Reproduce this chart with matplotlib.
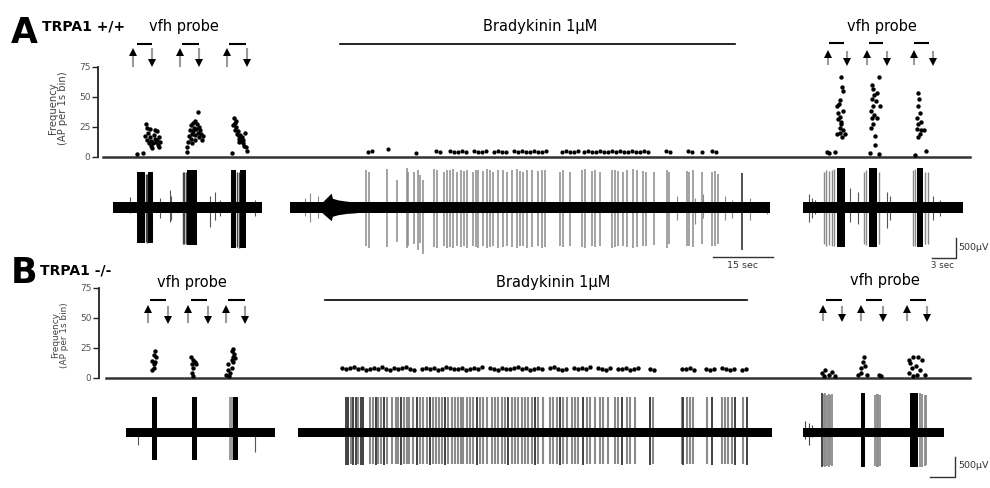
"""Recording figure: AP frequency and extracellular traces, TRPA1 +/+ vs -/-,
vfh probe before and after bradykinin 1 uM."""

import numpy as np
import matplotlib
matplotlib.use("Agg")
import matplotlib.pyplot as plt

plt.rcParams["font.family"] = ["DejaVu Sans"]

W, H = 990, 488

# ---------------------------------------------------------------- data
freq_ticks = [0, 25, 50, 75]

# frequency (AP per 1 s bin); time in s within each recording segment
a_pre_t = [3.0, 3.8, 4.1, 4.2, 4.0, 4.3, 4.4, 4.5, 4.6, 4.7, 4.8, 4.9, 5.0, 5.1,
           5.2, 5.3, 5.4, 5.5, 5.5, 5.6, 5.7, 5.8, 5.9, 4.6,
           9.2, 9.3, 9.4, 9.5, 9.6, 9.7, 9.8, 9.9, 10.0, 10.0, 10.1, 10.2, 10.3,
           10.4, 10.5, 10.6, 10.6, 10.7, 10.8, 10.9, 11.0, 11.1, 11.2, 9.9, 10.3,
           14.9, 15.0, 15.1, 15.2, 15.3, 15.4, 15.5, 15.6, 15.7, 15.8, 15.9, 16.0,
           16.1, 16.2, 16.3, 16.4, 16.5, 16.6, 16.7, 15.35, 15.8]
a_pre_f = [2, 3, 27, 24, 17, 14, 20, 11, 16, 9, 13, 7, 11, 18,
           15, 22, 12, 21, 14, 10, 16, 8, 12, 23,
           4, 8, 12, 17, 22, 15, 26, 19, 28, 21, 24, 18, 30,
           23, 27, 37, 20, 25, 16, 22, 19, 14, 17, 11, 14,
           3, 26, 32, 28, 22, 25, 19, 21, 17, 15, 18, 13,
           16, 11, 14, 9, 20, 8, 5, 30, 12]

a_mid_t = [19.5, 20.5, 24.5, 31.5, 36.5, 37.5,
           40, 41, 42, 43, 44, 46, 47, 48, 49, 51, 52, 53, 54, 56, 57, 58, 59,
           60, 61, 62, 63, 64,
           68, 69, 70, 71, 72,
           73.5, 74.5, 75.5, 76.5, 77.5, 78.5, 79.5, 80.5, 81.5, 82.5, 83.5,
           84.5, 85.5, 86.5, 87.5, 88.5, 89.5,
           94, 95, 99.5, 100.5, 103, 105.5, 106.5]
a_mid_f = [4, 5, 6, 3, 5, 4,
           5, 4, 4, 5, 4, 5, 4, 4, 5, 4, 5, 4, 4, 5, 4, 5, 4,
           4, 5, 4, 4, 5,
           4, 5, 4, 4, 5,
           4, 5, 4, 4, 5, 4, 4, 5, 4, 5, 4,
           4, 5, 4, 4, 5, 4,
           5, 4, 5, 4, 4, 5, 4]

a_post_t = [4.7, 4.9, 4.95, 4.6, 4.2, 4.4, 4.6, 5.0, 4.4, 4.8, 4.6, 4.95, 4.3,
            5.2, 4.85, 4.6, 4.0, 3.0, 3.3, 4.5, 4.75,
            9.5, 8.6, 8.75, 8.9, 8.6, 9.1, 8.75, 8.5, 9.6, 8.9, 8.6, 9.25, 8.75,
            8.5, 9.0, 9.0, 8.4, 9.5, 9.2,
            14.4, 14.5, 14.4, 14.6, 14.3, 14.75, 14.4, 14.3, 14.75, 14.6, 15.1,
            14.4, 14.0, 15.4]
a_post_f = [66, 58, 55, 47, 42, 36, 33, 38, 31, 27, 24, 22, 19,
            19, 16, 20, 4, 4, 3, 44, 29,
            66, 60, 56, 51, 48, 46, 42, 38, 42, 35, 32, 32, 27,
            24, 17, 10, 3, 2, 53,
            53, 48, 42, 36, 32, 29, 27, 23, 22, 19, 22,
            16, 1, 5]

b_pre_t = [3.6, 3.5, 3.7, 3.3, 3.6, 3.5, 3.55, 3.3,
           8.1, 8.35, 8.6, 8.25, 8.8, 8.4, 8.2, 8.4,
           13.4, 13.3, 13.5, 13.4, 13.6, 13.2, 13.4, 12.8, 13.2, 12.7, 13.0,
           12.5, 12.9]
b_pre_f = [22, 19, 17, 14, 13, 11, 8, 6,
           17, 15, 13, 11, 11, 8, 4, 1,
           24, 22, 20, 17, 16, 15, 13, 11, 8, 6, 4,
           2, 1]

b_mid_t = [11, 12, 13, 14, 15, 16, 17, 18, 19, 20, 21, 22, 23, 24, 25, 26, 27,
           28, 29, 31, 32, 33, 34, 35, 36, 37, 38, 39, 40, 41, 42, 43, 44, 45,
           46, 48, 49, 50, 51, 52, 53, 54, 55, 56, 57, 58, 59, 60, 61, 63, 64,
           65, 66, 67, 69, 70, 71, 72, 73, 75, 76, 77, 78, 80, 81, 82, 83, 84,
           85, 88, 89, 96, 97, 98, 99, 102, 103, 104, 106, 107, 108, 109, 111,
           112]
b_mid_f = [8, 7, 8, 9, 7, 8, 6, 7, 8, 7,
           9, 7, 6, 8, 7, 8, 9, 7, 6, 7,
           8, 7, 8, 6, 7, 9, 8, 7, 7, 8,
           6, 7, 8, 7, 9, 8, 7, 6, 8, 7,
           7, 8, 9, 7, 8, 6, 7, 8, 7, 8,
           9, 7, 6, 7, 8, 7, 8, 7, 9, 8,
           7, 6, 8, 7, 7, 8, 6, 7, 8, 7,
           6, 7, 7, 8, 6, 7, 6, 7, 8, 7,
           6, 7, 6, 7]

b_post_t = [2.4, 2.8, 3.2, 3.6, 4.0, 2.6,
            7.6, 7.5, 7.7, 7.3, 7.2, 6.9, 8.0, 9.5, 9.8,
            13.2, 13.8, 14.4, 14.9, 13.4, 14.1, 13.6, 14.6, 13.2, 14.2, 15.3, 13.8]
b_post_f = [4, 6, 2, 5, 1, 1,
            17, 13, 10, 8, 4, 2, 2, 2, 1,
            15, 17, 17, 15, 12, 10, 8, 6, 4, 2, 2, 1]

# vfh probe: up arrow (on), down arrow (off), bar
a_pre_on, a_pre_off = [2.5, 8.4, 14.2], [4.9, 10.8, 16.7]
a_pre_bar = [(3.0, 4.9), (8.6, 10.7), (14.5, 16.6)]
a_post_on, a_post_off = [3.1, 8.0, 13.9], [5.5, 10.5, 16.25]
a_post_bar = [(3.25, 5.1), (8.25, 10.0), (13.9, 15.75)]
b_pre_on, b_pre_off = [2.75, 7.75, 12.5], [5.25, 10.25, 14.9]
b_pre_bar = [(3.0, 5.0), (8.1, 10.1), (12.75, 14.9)]
b_post_on, b_post_off = [2.5, 7.25, 13.0], [4.9, 10.0, 15.5]
b_post_bar = [(2.9, 4.9), (7.9, 9.9), (13.4, 15.4)]

# bradykinin application (s, middle segment)
a_drug = (12.5, 111.25)
b_drug = (6.75, 112.25)

# traces (uV): bursts = dense firing blocks
a_pre_burst = dict(t0=[3.05, 4.4, 9.3, 14.7, 15.9], t1=[4.0, 5.0, 10.5, 15.4, 16.6],
                   up=[895, 895, 935, 940, 940], down=[895, 895, 935, 1020, 1020])
a_pre_grey = dict(t=[4.15, 4.3, 8.7, 8.9, 9.1, 15.55, 15.75],
                  up=[850, 850, 900, 880, 900, 900, 880],
                  down=[850, 880, 900, 900, 920, 980, 1000])
a_pre_small = dict(t=[2.1, 5.9, 7.1, 7.25, 12.1, 12.75, 13.4, 17.75],
                   up=[270, 250, 440, 300, 300, 400, 200, 200],
                   down=[140, 250, 350, 300, 480, 300, 200, 200])

a_mid_spk = dict(
    t=[19.0, 19.8, 24.2, 26.8, 29.2, 29.6, 31.0, 31.9, 32.5, 33.2,
       36.1, 36.7, 38.5, 39.3, 40.0, 40.8, 41.7, 42.7, 43.5, 44.2,
       45.7, 46.4, 47.1, 48.2, 49.2, 50.0, 50.8, 52.1, 53.3, 54.2,
       55.4, 56.7, 57.5, 58.3, 59.3, 60.4, 62.1, 62.9, 63.8, 67.5,
       68.3, 70.0, 72.9, 73.8, 75.4, 76.3, 77.5, 80.4, 81.3, 82.1,
       83.3, 84.3, 85.8, 86.8, 88.3, 89.0, 91.0, 94.2, 94.8, 99.2,
       99.8, 100.7, 103.0, 105.4, 106.3, 107.1],
    up=[950, 900, 960, 700, 980, 900, 880, 950, 820, 700,
        960, 940, 900, 950, 930, 960, 900, 940, 920, 950,
        900, 930, 950, 910, 960, 940, 900, 950, 930, 900,
        940, 960, 920, 900, 950, 930, 910, 950, 940, 900,
        940, 900, 930, 960, 910, 940, 900, 950, 930, 920,
        900, 940, 960, 930, 910, 900, 890, 950, 880, 920,
        900, 940, 880, 900, 920, 850],
    down=[950, 1000, 980, 850, 1000, 960, 900, 1050, 880, 1150,
          980, 1000, 960, 1000, 980, 1000, 960, 990, 970, 1000,
          960, 980, 1000, 960, 1000, 990, 950, 1000, 980, 960,
          990, 1000, 970, 950, 1000, 980, 960, 1000, 990, 950,
          980, 950, 980, 1000, 960, 990, 950, 1000, 980, 960,
          950, 990, 1000, 980, 960, 950, 930, 1000, 920, 960,
          950, 980, 920, 950, 960, 900])
a_mid_small = dict(t=[3.8, 5.0, 7.0, 96.7, 101.3, 103.3, 108.8, 110.4, 115.0, 119.2],
                   up=[250, 360, 300, 300, 250, 350, 300, 200, 250, 150],
                   down=[200, 350, 250, 300, 400, 250, 300, 250, 300, 150])
a_mid_tall = dict(t=[113.0], up=[855], down=[1062])
# stimulus artefact envelope (left-pointing wedge)
a_mid_artifact = dict(t=[8.0, 10.3, 10.6, 12.0, 14.0, 16.7],
                      up=[130, 360, 230, 190, 160, 130],
                      down=[130, 330, 220, 180, 150, 130])

a_post_burst = dict(t0=[4.25, 8.25, 14.25], t1=[5.25, 9.25, 15.0],
                    up=[990, 990, 990], down=[990, 990, 990])
a_post_grey = dict(t=[2.6, 2.9, 3.25, 3.6, 3.9, 7.6, 7.9, 9.5, 13.7, 14.0, 15.3, 15.6],
                   up=[900, 950, 920, 950, 960, 900, 930, 880, 950, 960, 900, 880],
                   down=[900, 950, 940, 960, 960, 920, 940, 900, 960, 970, 920, 900])
a_post_small = dict(t=[0.75, 1.1, 1.5, 5.9, 6.9, 10.5, 10.9, 16.25, 17.1],
                    up=[350, 250, 200, 500, 400, 400, 300, 300, 200],
                    down=[350, 250, 150, 350, 400, 500, 300, 300, 200])

b_pre_burst = dict(t0=[3.2, 8.2, 13.4], t1=[3.85, 8.9, 13.95],
                   up=[900, 900, 900], down=[690, 690, 690])
b_pre_grey = dict(t=[13.05, 13.2], up=[880, 880], down=[680, 680])
b_pre_small = dict(t=[1.5, 16.1], up=[60, 100], down=[300, 490])

b_mid_dark = dict(t=[12.0, 12.6, 13.8, 14.5, 15.7, 16.2, 19.5, 21.5, 25.8, 29.7,
                     33.0, 36.8, 44.7, 52.6, 59.3, 65.5, 71.3, 80.9, 88.0, 96.3,
                     103.4, 109.3, 112.2], up=900, down=800)
b_mid_grey = dict(t=[13.2, 15.1, 18.0, 18.7, 20.1, 20.7, 22.3, 23.4, 24.5, 25.1,
                     26.5, 27.2, 27.8, 28.7, 30.5, 31.3, 32.2, 33.8, 34.5, 35.2,
                     35.9, 37.6, 38.4, 39.3, 40.1, 40.7, 41.3, 42.2, 43.0, 43.8,
                     45.5, 46.3, 47.3, 48.4, 49.3, 50.1, 50.9, 51.8, 53.4, 54.3,
                     55.1, 55.9, 56.8, 57.6, 58.4, 60.1, 61.3, 63.0, 63.8, 64.7,
                     66.3, 67.3, 68.4, 69.3, 70.1, 72.2, 73.0, 74.3, 75.5, 76.3,
                     77.6, 79.3, 80.1, 82.2, 83.0, 84.3, 88.7, 95.9, 97.2, 98.0,
                     98.8, 102.2, 105.9, 106.8, 107.6, 108.4, 111.3], up=880, down=790)

b_post_burst = dict(t0=[7.3, 13.4], t1=[7.75, 14.4], up=[990, 990], down=[860, 860])
b_post_dark = dict(t=[2.4], up=[990], down=[860])
b_post_grey = dict(t=[2.6, 2.8, 3.0, 3.2, 3.4, 3.6, 9.0, 9.2, 9.4, 9.6, 14.6, 14.9, 15.2, 15.4],
                   up=[960, 980, 950, 970, 940, 960, 950, 970, 960, 940, 980, 960, 950, 930],
                   down=[840, 860, 830, 850, 820, 840, 840, 860, 850, 830, 860, 850, 840, 820])
b_post_small = dict(t=[0.3, 0.7, 1.1], up=[300, 250, 200], down=[150, 300, 100])

# ---------------------------------------------------------------- layout (pixels)
LAYOUT = {
    "A": dict(freq=(66.7, 156.5), spine=98, base0=103, trace=(157.5, 257.5),
              segs=[(113, 263, 18.75), (290, 770, 120), (803, 963, 20)],
              band_end=[18.6, 120, 20], noise=130, label_y=0.54, label_size=7.2,
              arrow_pre=(76, 89.5, 93.7), arrow_post=(77, 87.5, 95), drug_y=93.7),
    "B": dict(freq=(287.7, 377.7), spine=99, base0=106, trace=(382.5, 482.5),
              segs=[(126, 276, 18.75), (298, 778, 120), (803, 963, 20)],
              band_end=[18.6, 118.5, 17.6], noise=115, label_y=0.47, label_size=6.4,
              arrow_pre=(46.4, 59, 64.75), arrow_post=(48, 59, 65), drug_y=64.75),
}
BASE_X1 = 970

fig = plt.figure(figsize=(W / 100, H / 100), dpi=100)


def px_axes(x0, y0, x1, y1):
    ax = fig.add_axes([x0 / W, 1 - y1 / H, (x1 - x0) / W, (y1 - y0) / H])
    ax.patch.set_alpha(0)
    return ax


def ftext(x, y, s, **kw):
    fig.text(x / W, 1 - y / H, s, **kw)


def freq_frame(lay):
    ax = px_axes(lay["spine"], lay["freq"][0], BASE_X1, lay["freq"][1])
    ax.set_xlim(0, 1)
    ax.set_ylim(0, 75)
    for s in ("top", "right", "bottom"):
        ax.spines[s].set_visible(False)
    ax.spines["left"].set_color("#222")
    ax.spines["left"].set_linewidth(1.3)
    ax.set_xticks([])
    ax.set_yticks(freq_ticks)
    ax.tick_params(axis="y", length=4, width=1, color="#222", labelsize=6.5,
                   labelcolor="#555", pad=1.5)
    xmin = (lay["base0"] - lay["spine"]) / (BASE_X1 - lay["spine"])
    ax.axhline(0, xmin=xmin, xmax=1, color="#333", lw=1.8, clip_on=False)
    ax.set_ylabel("Frequency\n(AP per 1s bin)", fontsize=lay["label_size"],
                  color="#444", linespacing=1.0)
    ax.yaxis.set_label_coords(-0.034, lay["label_y"])


def freq_seg(lay, i, t, f, size=10):
    x0, x1, dur = lay["segs"][i]
    ax = px_axes(x0, lay["freq"][0], x1, lay["freq"][1])
    ax.set_xlim(0, dur)
    ax.set_ylim(0, 75)
    ax.axis("off")
    ax.scatter(t, f, s=size, c="black", lw=0, clip_on=False)
    return ax


def probe(ax, on, off, bars, levels):
    # grey stem with a solid black head; up = probe on, down = probe off
    lo, hi, ybar = levels
    for t in on:
        ax.plot([t, t], [lo, hi - 2], color="#9a9a9a", lw=1.5, clip_on=False)
        ax.plot(t, hi - 2, marker="^", ms=5.5, color="black", mew=0, clip_on=False)
    for t in off:
        ax.plot([t, t], [hi, lo + 2], color="#9a9a9a", lw=1.5, clip_on=False)
        ax.plot(t, lo + 2, marker="v", ms=5.5, color="black", mew=0, clip_on=False)
    for b0, b1 in bars:
        ax.plot([b0, b1], [ybar, ybar], color="black", lw=1.5,
                solid_capstyle="butt", clip_on=False)


def trace_seg(lay, i):
    x0, x1, dur = lay["segs"][i]
    ax = px_axes(x0, lay["trace"][0], x1, lay["trace"][1])
    ax.set_xlim(0, dur)
    ax.set_ylim(-1250, 1250)
    ax.axis("off")
    ax.fill_between([0, lay["band_end"][i]], -lay["noise"], lay["noise"],
                    color="black", lw=0, zorder=3)
    return ax


def spikes(ax, d, color, lw=1.0):
    ax.vlines(d["t"], -np.asarray(d["down"]), d["up"], colors=color, lw=lw, zorder=2)


def bursts(ax, d, color="black"):
    for t0, t1, u, dn in zip(d["t0"], d["t1"], d["up"], d["down"]):
        ax.fill_between([t0, t1], -dn, u, color=color, lw=0, zorder=2)


GREY = "#8a8a8a"

# ---------------------------------------------------------------- panel A
la = LAYOUT["A"]
freq_frame(la)
ax = freq_seg(la, 0, a_pre_t, a_pre_f)
probe(ax, a_pre_on, a_pre_off, a_pre_bar, la["arrow_pre"])
ax = freq_seg(la, 1, a_mid_t, a_mid_f, size=9)
ax.plot(a_drug, [la["drug_y"]] * 2, color="black", lw=1.2, clip_on=False)
ax = freq_seg(la, 2, a_post_t, a_post_f)
probe(ax, a_post_on, a_post_off, a_post_bar, la["arrow_post"])

ax = trace_seg(la, 0)
spikes(ax, a_pre_small, "#555", 0.8)
spikes(ax, a_pre_grey, "#444")
bursts(ax, a_pre_burst)

ax = trace_seg(la, 1)
spikes(ax, a_mid_small, GREY, 0.8)
spikes(ax, a_mid_spk, GREY, 1.1)
spikes(ax, a_mid_tall, "#222", 1.1)
art = a_mid_artifact
ax.fill_between(art["t"], -np.asarray(art["down"]), art["up"], color="black", lw=0, zorder=3)
ax.plot([105.75, 120.75], [-1240, -1240], color="#333", lw=1.0, clip_on=False)
ftext(743, 266, "15 sec", fontsize=6.8, ha="center", va="center", color="#333")

ax = trace_seg(la, 2)
spikes(ax, a_post_small, "#555", 0.8)
spikes(ax, a_post_grey, GREY)
bursts(ax, a_post_burst)
ax.plot([16.1, 19.1, 19.1], [-1260, -1260, -760], color="#333", lw=1.0, clip_on=False)
ftext(958, 247, "500\u03bcV", fontsize=6.8, ha="left", va="center", color="#333")
ftext(942, 266, "3 sec", fontsize=6.2, ha="center", va="center", color="#333")

ftext(11, 43, "A", fontsize=25, fontweight="bold", va="baseline")
ftext(42, 30, "TRPA1 +/+", fontsize=10, fontweight="bold", va="baseline")
ftext(184, 31, "vfh probe", fontsize=10.5, ha="center", va="baseline")
ftext(540, 31, "Bradykinin 1\u03bcM", fontsize=10.5, ha="center", va="baseline")
ftext(882, 31, "vfh probe", fontsize=10.5, ha="center", va="baseline")

# ---------------------------------------------------------------- panel B
lb = LAYOUT["B"]
freq_frame(lb)
ax = freq_seg(lb, 0, b_pre_t, b_pre_f)
probe(ax, b_pre_on, b_pre_off, b_pre_bar, lb["arrow_pre"])
ax = freq_seg(lb, 1, b_mid_t, b_mid_f, size=10)
ax.plot(b_drug, [lb["drug_y"]] * 2, color="black", lw=1.2, clip_on=False)
ax = freq_seg(lb, 2, b_post_t, b_post_f)
probe(ax, b_post_on, b_post_off, b_post_bar, lb["arrow_post"])

ax = trace_seg(lb, 0)
spikes(ax, b_pre_small, "#555", 0.8)
spikes(ax, b_pre_grey, GREY, 1.2)
bursts(ax, b_pre_burst)

ax = trace_seg(lb, 1)
spikes(ax, b_mid_grey, GREY, 1.5)
spikes(ax, b_mid_dark, "#333", 1.3)

ax = trace_seg(lb, 2)
spikes(ax, b_post_small, "#444", 0.8)
spikes(ax, b_post_grey, GREY, 1.3)
spikes(ax, b_post_dark, "#222", 1.2)
bursts(ax, b_post_burst)
ax.plot([15.9, 19.0, 19.0], [-1120, -1120, -620], color="#333", lw=1.0, clip_on=False)
ftext(958, 466, "500\u03bcV", fontsize=6.8, ha="left", va="center", color="#333")

ftext(11, 283, "B", fontsize=25, fontweight="bold", va="baseline")
ftext(40, 275, "TRPA1 -/-", fontsize=10, fontweight="bold", va="baseline")
ftext(192, 287, "vfh probe", fontsize=10.5, ha="center", va="baseline")
ftext(553, 287, "Bradykinin 1\u03bcM", fontsize=10.5, ha="center", va="baseline")
ftext(885, 285, "vfh probe", fontsize=10.5, ha="center", va="baseline")

fig.savefig("out.png", dpi=100)
plt.close(fig)
